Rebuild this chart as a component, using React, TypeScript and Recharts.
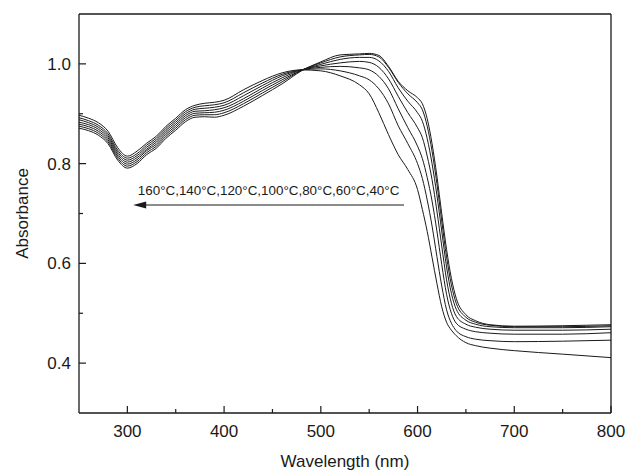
import { LineChart, Line, XAxis, YAxis, ReferenceLine, Label } from "recharts";

// wavelength grid (nm)
const wavelengths = [
  250, 260, 270, 280, 290, 300, 310, 320, 330, 340, 350, 360, 370, 380, 390, 400, 420, 440, 460, 480,
  500, 520, 540, 550, 560, 570, 580, 590, 600, 605, 610, 615, 620, 625, 630, 635, 640, 650, 660, 675,
  700, 750, 800,
];

// absorbance for each annealing temperature
const abs40 = [
  0.871, 0.866, 0.857, 0.84, 0.807, 0.791, 0.8, 0.818, 0.831, 0.851, 0.867, 0.884, 0.893, 0.894, 0.893, 0.897, 0.915, 0.937, 0.96, 0.986,
  1.004, 1.018, 1.02, 1.021, 1.017, 0.995, 0.965, 0.946, 0.932, 0.92, 0.89, 0.84, 0.775, 0.7, 0.628, 0.57, 0.53, 0.497, 0.485, 0.477,
  0.474, 0.475, 0.477,
];
const abs60 = [
  0.875, 0.87, 0.861, 0.844, 0.811, 0.795, 0.804, 0.822, 0.835, 0.855, 0.871, 0.888, 0.897, 0.898, 0.898, 0.902, 0.92, 0.942, 0.964, 0.987,
  1.002, 1.014, 1.018, 1.019, 1.014, 0.993, 0.963, 0.94, 0.922, 0.908, 0.875, 0.825, 0.76, 0.685, 0.613, 0.557, 0.52, 0.492, 0.482, 0.476,
  0.473, 0.473, 0.475,
];
const abs80 = [
  0.879, 0.874, 0.865, 0.848, 0.815, 0.799, 0.808, 0.826, 0.839, 0.859, 0.875, 0.892, 0.901, 0.902, 0.903, 0.907, 0.925, 0.947, 0.968, 0.987,
  0.999, 1.009, 1.013, 1.013, 1.006, 0.985, 0.952, 0.925, 0.902, 0.885, 0.85, 0.8, 0.737, 0.665, 0.593, 0.54, 0.508, 0.486, 0.478, 0.473,
  0.471, 0.471, 0.473,
];
const abs100 = [
  0.883, 0.878, 0.869, 0.852, 0.819, 0.803, 0.812, 0.829, 0.843, 0.863, 0.879, 0.896, 0.905, 0.906, 0.908, 0.912, 0.93, 0.952, 0.972, 0.988,
  0.996, 1.002, 1.005, 1.003, 0.993, 0.97, 0.935, 0.902, 0.872, 0.852, 0.815, 0.768, 0.705, 0.635, 0.567, 0.52, 0.494, 0.478, 0.472, 0.468,
  0.466, 0.466, 0.468,
];
const abs120 = [
  0.888, 0.882, 0.873, 0.856, 0.823, 0.807, 0.816, 0.833, 0.847, 0.867, 0.883, 0.9, 0.909, 0.911, 0.913, 0.917, 0.936, 0.957, 0.976, 0.988,
  0.993, 0.995, 0.992, 0.988, 0.975, 0.95, 0.91, 0.872, 0.835, 0.81, 0.772, 0.725, 0.665, 0.598, 0.538, 0.5, 0.48, 0.468, 0.463, 0.46,
  0.458, 0.458, 0.461,
];
const abs140 = [
  0.892, 0.886, 0.877, 0.86, 0.827, 0.811, 0.82, 0.837, 0.851, 0.871, 0.887, 0.904, 0.913, 0.916, 0.918, 0.922, 0.942, 0.962, 0.979, 0.988,
  0.99, 0.986, 0.976, 0.968, 0.95, 0.92, 0.876, 0.84, 0.8, 0.77, 0.727, 0.675, 0.614, 0.555, 0.507, 0.48, 0.465, 0.453, 0.448, 0.445,
  0.443, 0.444, 0.446,
];
const abs160 = [
  0.897, 0.891, 0.882, 0.865, 0.832, 0.815, 0.825, 0.841, 0.855, 0.875, 0.891, 0.908, 0.917, 0.921, 0.923, 0.927, 0.948, 0.967, 0.982, 0.988,
  0.986, 0.976, 0.958, 0.94, 0.902, 0.858, 0.818, 0.788, 0.748, 0.708, 0.664, 0.612, 0.56, 0.513, 0.482, 0.466, 0.455, 0.441, 0.435, 0.43,
  0.425, 0.418, 0.411,
];

const seriesKeys = ["t40", "t60", "t80", "t100", "t120", "t140", "t160"];

const xTicks = [300, 350, 400, 450, 500, 550, 600, 650, 700, 750, 800];
const xMajor = [300, 400, 500, 600, 700, 800];
const yTicks = [0.4, 0.5, 0.6, 0.7, 0.8, 0.9, 1.0];
const yMajor = [0.4, 0.6, 0.8, 1.0];

const arrowText = "160°C,140°C,120°C,100°C,80°C,60°C,40°C";
const arrowStart = 586;
const arrowEnd = 306;
const arrowLevel = 0.717;

const data = wavelengths.map((w, i) => ({
  w,
  t40: abs40[i],
  t60: abs60[i],
  t80: abs80[i],
  t100: abs100[i],
  t120: abs120[i],
  t140: abs140[i],
  t160: abs160[i],
}));

const FONT = "'Liberation Sans', Arial, Helvetica, sans-serif";
const INK = "#1a1a1a";

const XTick = (props: any) => {
  const { x, y, payload } = props;
  const major = xMajor.includes(payload.value);
  return (
    <g>
      <line x1={x} x2={x} y1={y} y2={y - (major ? 7 : 4)} stroke={INK} strokeWidth={1.2} />
      {major && (
        <text x={x} y={y + 24} textAnchor="middle" fontSize={17} fill={INK} fontFamily={FONT}>
          {payload.value}
        </text>
      )}
    </g>
  );
};

const YTick = (props: any) => {
  const { x, y, payload } = props;
  const major = yMajor.some((v) => Math.abs(v - payload.value) < 1e-6);
  return (
    <g>
      <line x1={x} x2={x + (major ? 7 : 4)} y1={y} y2={y} stroke={INK} strokeWidth={1.2} />
      {major && (
        <text x={x - 8} y={y + 6} textAnchor="end" fontSize={17} fill={INK} fontFamily={FONT}>
          {payload.value.toFixed(1)}
        </text>
      )}
    </g>
  );
};

const ArrowShape = (p: any) => {
  const { x1, y1, x2, y2 } = p;
  const tip = Math.min(x1, x2);
  const tail = Math.max(x1, x2);
  const y = (y1 + y2) / 2;
  return (
    <g>
      <line x1={tail} y1={y} x2={tip + 10} y2={y} stroke={INK} strokeWidth={1.2} />
      <polygon points={`${tip},${y} ${tip + 13},${y - 3.5} ${tip + 13},${y + 3.5}`} fill={INK} />
      <text x={(tip + tail) / 2} y={y - 10} textAnchor="middle" fontSize={13.4} fill={INK} fontFamily={FONT}>
        {arrowText}
      </text>
    </g>
  );
};

export default function App() {
  return (
    <div style={{ position: "absolute", left: 0, top: 0, background: "#fff" }}>
      <LineChart width={630} height={471} data={data} margin={{ top: 14, right: 19, bottom: 0, left: 0 }}>
        <XAxis
          dataKey="w"
          type="number"
          domain={[250, 800]}
          ticks={xTicks}
          interval={0}
          tick={XTick}
          tickLine={false}
          tickSize={0}
          tickMargin={0}
          height={58}
          axisLine={{ stroke: INK, strokeWidth: 1.3 }}
        >
          <Label
            content={(lp: any) => {
              const vb = lp.viewBox;
              return (
                <text x={vb.x + vb.width / 2} y={467} textAnchor="middle" fontSize={17} fill={INK} fontFamily={FONT}>
                  Wavelength (nm)
                </text>
              );
            }}
          />
        </XAxis>
        <YAxis
          type="number"
          domain={[0.3, 1.1]}
          ticks={yTicks}
          interval={0}
          tick={YTick}
          tickLine={false}
          tickSize={0}
          tickMargin={0}
          width={79}
          axisLine={{ stroke: INK, strokeWidth: 1.3 }}
        >
          <Label
            content={(lp: any) => {
              const vb = lp.viewBox;
              const cy = vb.y + vb.height / 2;
              return (
                <text x={28} y={cy} transform={`rotate(-90 28 ${cy})`} textAnchor="middle" fontSize={17} fill={INK} fontFamily={FONT}>
                  Absorbance
                </text>
              );
            }}
          />
        </YAxis>
        <ReferenceLine y={1.1} stroke={INK} strokeWidth={1.3} />
        <ReferenceLine x={800} stroke={INK} strokeWidth={1.3} />
        {seriesKeys.map((k) => (
          <Line
            key={k}
            dataKey={k}
            type="monotone"
            stroke={INK}
            strokeWidth={1}
            dot={false}
            activeDot={false}
            isAnimationActive={false}
          />
        ))}
        <ReferenceLine
          segment={[
            { x: arrowStart, y: arrowLevel },
            { x: arrowEnd, y: arrowLevel },
          ]}
          shape={ArrowShape}
        />
      </LineChart>
    </div>
  );
}
